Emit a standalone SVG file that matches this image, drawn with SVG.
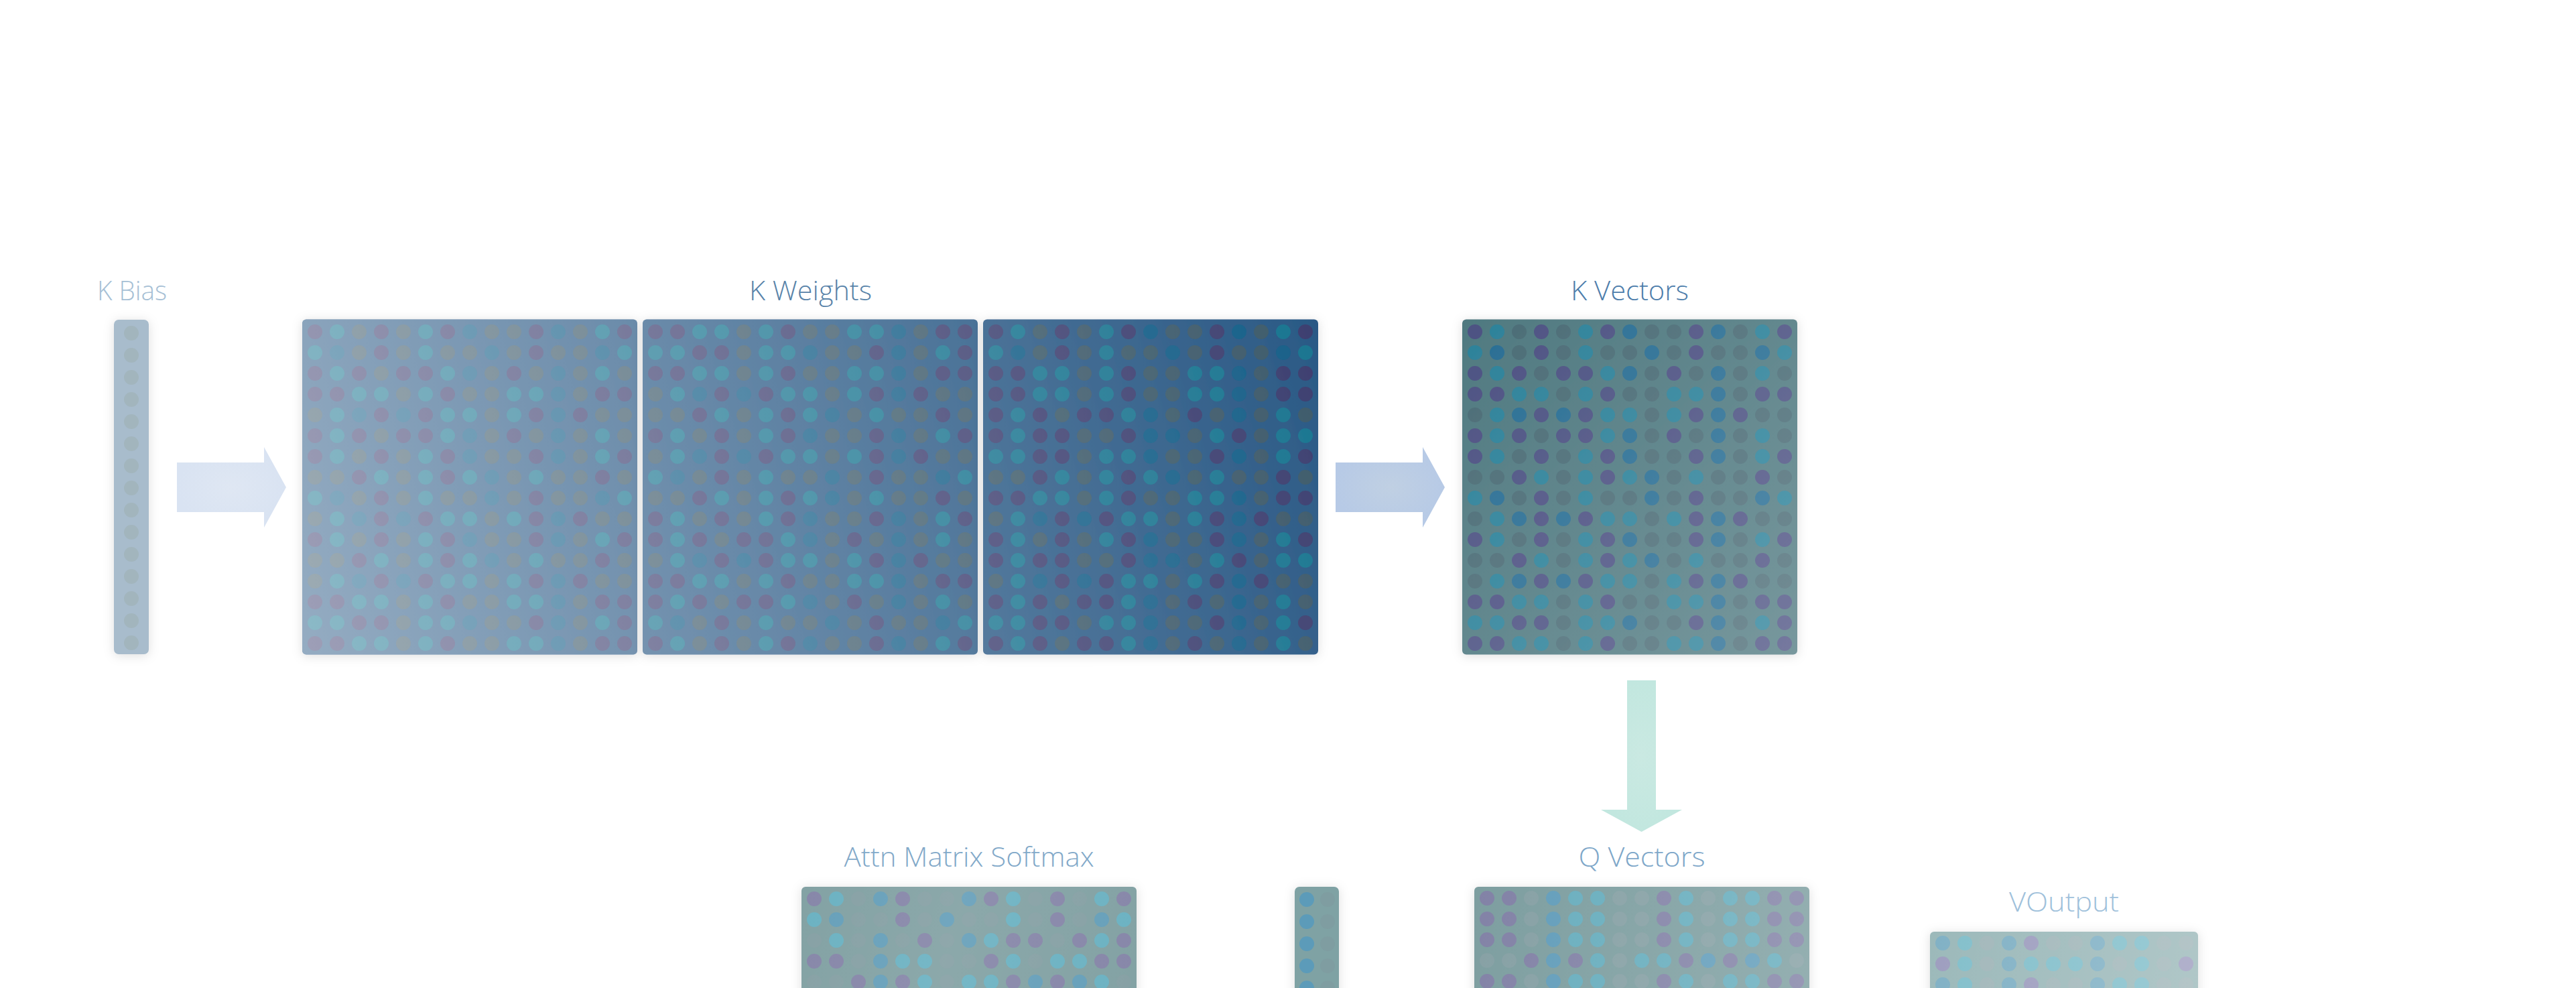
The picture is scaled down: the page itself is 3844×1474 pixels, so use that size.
<svg xmlns="http://www.w3.org/2000/svg" xmlns:xlink="http://www.w3.org/1999/xlink" width="3844" height="1474" viewBox="0 0 3844 1474">
<style>
.p{fill:var(--p)} .t{fill:var(--t)} .b{fill:var(--b)} .g{fill:var(--g)}
.lbl{font-family:"Open Sans","Liberation Sans",sans-serif;font-weight:300;text-anchor:middle}
.top{font-size:41px}
.bot{font-size:40px}
</style>
<defs>
<filter id="sh" x="-10%" y="-10%" width="120%" height="120%">
<feDropShadow dx="0" dy="2" stdDeviation="8" flood-color="#000" flood-opacity="0.13"/>
</filter>
<filter id="shn" x="-60%" y="-10%" width="220%" height="120%">
<feDropShadow dx="0" dy="2" stdDeviation="8" flood-color="#000" flood-opacity="0.13"/>
</filter>
<linearGradient id="kwov" gradientUnits="userSpaceOnUse" x1="451" y1="976" x2="1967" y2="476">
<stop offset="0" stop-color="#fff" stop-opacity="0.5"/><stop offset="1" stop-color="#fff" stop-opacity="0"/>
</linearGradient>
<linearGradient id="kvov" gradientUnits="userSpaceOnUse" x1="2182" y1="476" x2="2682" y2="976">
<stop offset="0" stop-color="#fff" stop-opacity="0"/><stop offset="1" stop-color="#fff" stop-opacity="0.23"/>
</linearGradient>
<linearGradient id="atov" gradientUnits="userSpaceOnUse" x1="1196" y1="1323" x2="1696" y2="1474">
<stop offset="0" stop-color="#fff" stop-opacity="0"/><stop offset="0.45" stop-color="#fff" stop-opacity="0.07"/><stop offset="1" stop-color="#fff" stop-opacity="0"/>
</linearGradient>
<linearGradient id="qov" gradientUnits="userSpaceOnUse" x1="2200" y1="1323" x2="2700" y2="1474">
<stop offset="0" stop-color="#fff" stop-opacity="0"/><stop offset="1" stop-color="#fff" stop-opacity="0.18"/>
</linearGradient>
<linearGradient id="vov" gradientUnits="userSpaceOnUse" x1="2880" y1="1390" x2="3280" y2="1474">
<stop offset="0" stop-color="#fff" stop-opacity="0"/><stop offset="1" stop-color="#fff" stop-opacity="0.2"/>
</linearGradient>
<radialGradient id="ar1"><stop offset="0" stop-color="#dfe7f3"/><stop offset="1" stop-color="#d9e3f2"/></radialGradient>
<radialGradient id="ar2"><stop offset="0" stop-color="#c0d0e3"/><stop offset="1" stop-color="#b7cae6"/></radialGradient>
<radialGradient id="ar3"><stop offset="0" stop-color="#cae9e2"/><stop offset="1" stop-color="#c2e7df"/></radialGradient>
<g id="rA"><circle class="p" cx="0" r="11"/><circle class="t" cx="33" r="11"/><circle class="g" cx="66" r="11"/><circle class="p" cx="99" r="11"/><circle class="g" cx="132" r="11"/><circle class="t" cx="165" r="11"/><circle class="p" cx="198" r="11"/><circle class="b" cx="231" r="11"/><circle class="g" cx="264" r="11"/><circle class="g" cx="297" r="11"/><circle class="p" cx="330" r="11"/><circle class="b" cx="363" r="11"/><circle class="g" cx="396" r="11"/><circle class="t" cx="429" r="11"/><circle class="p" cx="462" r="11"/></g>
<g id="rB"><circle class="t" cx="0" r="11"/><circle class="b" cx="33" r="11"/><circle class="g" cx="66" r="11"/><circle class="p" cx="99" r="11"/><circle class="g" cx="132" r="11"/><circle class="t" cx="165" r="11"/><circle class="g" cx="198" r="11"/><circle class="g" cx="231" r="11"/><circle class="b" cx="264" r="11"/><circle class="g" cx="297" r="11"/><circle class="p" cx="330" r="11"/><circle class="g" cx="363" r="11"/><circle class="g" cx="396" r="11"/><circle class="b" cx="429" r="11"/><circle class="t" cx="462" r="11"/></g>
<g id="rC"><circle class="p" cx="0" r="11"/><circle class="t" cx="33" r="11"/><circle class="p" cx="66" r="11"/><circle class="g" cx="99" r="11"/><circle class="p" cx="132" r="11"/><circle class="p" cx="165" r="11"/><circle class="t" cx="198" r="11"/><circle class="b" cx="231" r="11"/><circle class="g" cx="264" r="11"/><circle class="p" cx="297" r="11"/><circle class="g" cx="330" r="11"/><circle class="b" cx="363" r="11"/><circle class="g" cx="396" r="11"/><circle class="t" cx="429" r="11"/><circle class="g" cx="462" r="11"/></g>
<g id="rD"><circle class="p" cx="0" r="11"/><circle class="p" cx="33" r="11"/><circle class="t" cx="66" r="11"/><circle class="t" cx="99" r="11"/><circle class="g" cx="132" r="11"/><circle class="t" cx="165" r="11"/><circle class="p" cx="198" r="11"/><circle class="g" cx="231" r="11"/><circle class="g" cx="264" r="11"/><circle class="t" cx="297" r="11"/><circle class="t" cx="330" r="11"/><circle class="b" cx="363" r="11"/><circle class="g" cx="396" r="11"/><circle class="p" cx="429" r="11"/><circle class="p" cx="462" r="11"/></g>
<g id="rE"><circle class="g" cx="0" r="11"/><circle class="t" cx="33" r="11"/><circle class="b" cx="66" r="11"/><circle class="p" cx="99" r="11"/><circle class="b" cx="132" r="11"/><circle class="p" cx="165" r="11"/><circle class="t" cx="198" r="11"/><circle class="t" cx="231" r="11"/><circle class="g" cx="264" r="11"/><circle class="t" cx="297" r="11"/><circle class="p" cx="330" r="11"/><circle class="b" cx="363" r="11"/><circle class="p" cx="396" r="11"/><circle class="g" cx="429" r="11"/><circle class="g" cx="462" r="11"/></g>
<g id="rF"><circle class="g" cx="0" r="11"/><circle class="g" cx="33" r="11"/><circle class="p" cx="66" r="11"/><circle class="t" cx="99" r="11"/><circle class="g" cx="132" r="11"/><circle class="t" cx="165" r="11"/><circle class="p" cx="198" r="11"/><circle class="t" cx="231" r="11"/><circle class="b" cx="264" r="11"/><circle class="g" cx="297" r="11"/><circle class="t" cx="330" r="11"/><circle class="g" cx="363" r="11"/><circle class="g" cx="396" r="11"/><circle class="p" cx="429" r="11"/><circle class="g" cx="462" r="11"/></g>
<g id="rH"><circle class="t" cx="0" r="11"/><circle class="t" cx="33" r="11"/><circle class="p" cx="66" r="11"/><circle class="p" cx="99" r="11"/><circle class="g" cx="132" r="11"/><circle class="t" cx="165" r="11"/><circle class="t" cx="198" r="11"/><circle class="b" cx="231" r="11"/><circle class="g" cx="264" r="11"/><circle class="g" cx="297" r="11"/><circle class="p" cx="330" r="11"/><circle class="b" cx="363" r="11"/><circle class="g" cx="396" r="11"/><circle class="t" cx="429" r="11"/><circle class="p" cx="462" r="11"/></g>
<g id="rI"><circle class="p" cx="0" r="11"/><circle class="t" cx="33" r="11"/><circle class="p" cx="66" r="11"/><circle class="p" cx="99" r="11"/><circle class="g" cx="132" r="11"/><circle class="g" cx="165" r="11"/><circle class="p" cx="198" r="11"/><circle class="b" cx="231" r="11"/><circle class="b" cx="264" r="11"/><circle class="g" cx="297" r="11"/><circle class="t" cx="330" r="11"/><circle class="p" cx="363" r="11"/><circle class="g" cx="396" r="11"/><circle class="t" cx="429" r="11"/><circle class="t" cx="462" r="11"/></g>
<g id="rJ"><circle class="g" cx="0" r="11"/><circle class="g" cx="33" r="11"/><circle class="p" cx="66" r="11"/><circle class="b" cx="99" r="11"/><circle class="p" cx="132" r="11"/><circle class="t" cx="165" r="11"/><circle class="g" cx="198" r="11"/><circle class="t" cx="231" r="11"/><circle class="t" cx="264" r="11"/><circle class="p" cx="297" r="11"/><circle class="b" cx="330" r="11"/><circle class="p" cx="363" r="11"/><circle class="b" cx="396" r="11"/><circle class="t" cx="429" r="11"/><circle class="g" cx="462" r="11"/></g>
<g id="rK"><circle class="p" cx="0" r="11"/><circle class="t" cx="33" r="11"/><circle class="g" cx="66" r="11"/><circle class="b" cx="99" r="11"/><circle class="p" cx="132" r="11"/><circle class="g" cx="165" r="11"/><circle class="g" cx="198" r="11"/><circle class="b" cx="231" r="11"/><circle class="p" cx="264" r="11"/><circle class="t" cx="297" r="11"/><circle class="g" cx="330" r="11"/><circle class="p" cx="363" r="11"/><circle class="g" cx="396" r="11"/><circle class="t" cx="429" r="11"/><circle class="p" cx="462" r="11"/></g>
<g id="rL"><circle class="t" cx="0" r="11"/><circle class="b" cx="33" r="11"/><circle class="g" cx="66" r="11"/><circle class="g" cx="99" r="11"/><circle class="p" cx="132" r="11"/><circle class="g" cx="165" r="11"/><circle class="b" cx="198" r="11"/><circle class="g" cx="231" r="11"/><circle class="g" cx="264" r="11"/><circle class="t" cx="297" r="11"/><circle class="g" cx="330" r="11"/><circle class="p" cx="363" r="11"/><circle class="g" cx="396" r="11"/><circle class="b" cx="429" r="11"/><circle class="t" cx="462" r="11"/></g>
<g id="rM"><circle class="g" cx="0" r="11"/><circle class="t" cx="33" r="11"/><circle class="g" cx="66" r="11"/><circle class="b" cx="99" r="11"/><circle class="g" cx="132" r="11"/><circle class="p" cx="165" r="11"/><circle class="g" cx="198" r="11"/><circle class="b" cx="231" r="11"/><circle class="t" cx="264" r="11"/><circle class="p" cx="297" r="11"/><circle class="p" cx="330" r="11"/><circle class="g" cx="363" r="11"/><circle class="p" cx="396" r="11"/><circle class="t" cx="429" r="11"/><circle class="p" cx="462" r="11"/></g>
<g id="rN"><circle class="p" cx="0" r="11"/><circle class="p" cx="33" r="11"/><circle class="g" cx="66" r="11"/><circle class="b" cx="99" r="11"/><circle class="t" cx="132" r="11"/><circle class="t" cx="165" r="11"/><circle class="g" cx="198" r="11"/><circle class="g" cx="231" r="11"/><circle class="p" cx="264" r="11"/><circle class="t" cx="297" r="11"/><circle class="g" cx="330" r="11"/><circle class="t" cx="363" r="11"/><circle class="t" cx="396" r="11"/><circle class="p" cx="429" r="11"/><circle class="p" cx="462" r="11"/></g>
<g id="rV1"><circle class="b" cx="0" r="11"/><circle class="t" cx="33" r="11"/><circle class="g" cx="66" r="11"/><circle class="b" cx="99" r="11"/><circle class="p" cx="132" r="11"/><circle class="g" cx="165" r="11"/><circle class="g" cx="198" r="11"/><circle class="b" cx="231" r="11"/><circle class="t" cx="264" r="11"/><circle class="t" cx="297" r="11"/><circle class="g" cx="330" r="11"/><circle class="g" cx="363" r="11"/></g>
<g id="rV2"><circle class="p" cx="0" r="11"/><circle class="t" cx="33" r="11"/><circle class="g" cx="66" r="11"/><circle class="b" cx="99" r="11"/><circle class="t" cx="132" r="11"/><circle class="t" cx="165" r="11"/><circle class="t" cx="198" r="11"/><circle class="b" cx="231" r="11"/><circle class="g" cx="264" r="11"/><circle class="t" cx="297" r="11"/><circle class="g" cx="330" r="11"/><circle class="p" cx="363" r="11"/></g>
</defs>
<rect width="3844" height="1474" fill="#fff"/>

<g id="k-bias" style="--g:#a2b5bd">
<g filter="url(#shn)">
<rect x="170" y="477" width="52" height="499" rx="7" fill="#a8bccc"/>
<circle class="g" cx="196" cy="497" r="11"/><circle class="g" cx="196" cy="530" r="11"/><circle class="g" cx="196" cy="563" r="11"/><circle class="g" cx="196" cy="596" r="11"/><circle class="g" cx="196" cy="629" r="11"/><circle class="g" cx="196" cy="662" r="11"/><circle class="g" cx="196" cy="695" r="11"/><circle class="g" cx="196" cy="728" r="11"/><circle class="g" cx="196" cy="761" r="11"/><circle class="g" cx="196" cy="794" r="11"/><circle class="g" cx="196" cy="827" r="11"/><circle class="g" cx="196" cy="860" r="11"/><circle class="g" cx="196" cy="893" r="11"/><circle class="g" cx="196" cy="926" r="11"/><circle class="g" cx="196" cy="959" r="11"/>
</g>
<text class="lbl top" x="197" y="448" fill="#a6bfd5" textLength="104" lengthAdjust="spacingAndGlyphs">K Bias</text>
</g>

<g id="k-weights" style="--p:#3d3f70;--t:#1a7590;--b:#165f88;--g:#3d5a6a">
<g id="k-weights-1" filter="url(#sh)">
<rect x="451" y="476.5" width="500" height="500" rx="6" fill="#2a5985"/>
<use href="#rA" x="470" y="495"/><use href="#rB" x="470" y="526"/><use href="#rC" x="470" y="557"/><use href="#rD" x="470" y="588"/><use href="#rE" x="470" y="619"/><use href="#rC" x="470" y="650"/><use href="#rA" x="470" y="681"/><use href="#rF" x="470" y="712"/><use href="#rB" x="470" y="743"/><use href="#rE" x="470" y="774"/><use href="#rA" x="470" y="805"/><use href="#rF" x="470" y="836"/><use href="#rE" x="470" y="867"/><use href="#rD" x="470" y="898"/><use href="#rH" x="470" y="929"/><use href="#rD" x="470" y="960"/>
<rect x="451" y="476.5" width="500" height="500" rx="6" fill="url(#kwov)"/>
</g>
<g id="k-weights-2" filter="url(#sh)">
<rect x="959" y="476.5" width="500" height="500" rx="6" fill="#2a5985"/>
<use href="#rD" x="978" y="495"/><use href="#rH" x="978" y="526"/><use href="#rD" x="978" y="557"/><use href="#rE" x="978" y="588"/><use href="#rF" x="978" y="619"/><use href="#rA" x="978" y="650"/><use href="#rE" x="978" y="681"/><use href="#rB" x="978" y="712"/><use href="#rF" x="978" y="743"/><use href="#rA" x="978" y="774"/><use href="#rC" x="978" y="805"/><use href="#rE" x="978" y="836"/><use href="#rD" x="978" y="867"/><use href="#rC" x="978" y="898"/><use href="#rB" x="978" y="929"/><use href="#rA" x="978" y="960"/>
<rect x="959" y="476.5" width="500" height="500" rx="6" fill="url(#kwov)"/>
</g>
<g id="k-weights-3" filter="url(#sh)">
<rect x="1467" y="476.5" width="500" height="500" rx="6" fill="#2a5985"/>
<use href="#rA" x="1486" y="495"/><use href="#rB" x="1486" y="526"/><use href="#rD" x="1486" y="557"/><use href="#rD" x="1486" y="588"/><use href="#rC" x="1486" y="619"/><use href="#rI" x="1486" y="650"/><use href="#rH" x="1486" y="681"/><use href="#rF" x="1486" y="712"/><use href="#rD" x="1486" y="743"/><use href="#rE" x="1486" y="774"/><use href="#rA" x="1486" y="805"/><use href="#rI" x="1486" y="836"/><use href="#rE" x="1486" y="867"/><use href="#rC" x="1486" y="898"/><use href="#rH" x="1486" y="929"/><use href="#rC" x="1486" y="960"/>
<rect x="1467" y="476.5" width="500" height="500" rx="6" fill="url(#kwov)"/>
</g>
<text class="lbl top" x="1209.5" y="448" fill="#5883a9" textLength="183" lengthAdjust="spacingAndGlyphs">K Weights</text>
</g>

<g id="k-vectors" style="--p:#4c5182;--t:#2c8199;--b:#286d93;--g:#4a6b75">
<g filter="url(#sh)">
<rect x="2182" y="476.5" width="500" height="500" rx="6" fill="#4f7980"/>
<use href="#rA" x="2201" y="495"/><use href="#rB" x="2201" y="526"/><use href="#rC" x="2201" y="557"/><use href="#rD" x="2201" y="588"/><use href="#rE" x="2201" y="619"/><use href="#rC" x="2201" y="650"/><use href="#rA" x="2201" y="681"/><use href="#rF" x="2201" y="712"/><use href="#rB" x="2201" y="743"/><use href="#rE" x="2201" y="774"/><use href="#rA" x="2201" y="805"/><use href="#rF" x="2201" y="836"/><use href="#rE" x="2201" y="867"/><use href="#rD" x="2201" y="898"/><use href="#rH" x="2201" y="929"/><use href="#rD" x="2201" y="960"/>
<rect x="2182" y="476.5" width="500" height="500" rx="6" fill="url(#kvov)"/>
</g>
<text class="lbl top" x="2432" y="448" fill="#4d7dab" textLength="176" lengthAdjust="spacingAndGlyphs">K Vectors</text>
</g>

<g id="attn-matrix-softmax" style="--p:#8787a9;--t:#6cb2c2;--b:#67a0ba;--g:#87a1a5">
<g filter="url(#sh)">
<rect x="1196" y="1323" width="500" height="300" rx="6" fill="#83a2a4"/>
<use href="#rK" x="1215" y="1341"/><use href="#rL" x="1215" y="1372"/><use href="#rM" x="1215" y="1403"/><use href="#rN" x="1215" y="1434"/><use href="#rJ" x="1215" y="1465"/>
<rect x="1196" y="1323" width="500" height="300" rx="6" fill="url(#atov)"/>
</g>
<text class="lbl bot" x="1446" y="1293" fill="#82a9c9" textLength="373" lengthAdjust="spacingAndGlyphs">Attn Matrix Softmax</text>
</g>

<g id="attn-column" style="--b:#5c9bb9;--g:#7f9da1">
<g filter="url(#shn)">
<rect x="1932" y="1323" width="66" height="300" rx="7" fill="#7fa2a4"/>
<circle class="b" cx="1950" cy="1342" r="11"/><circle class="g" cx="1981" cy="1342" r="11"/>
<circle class="b" cx="1950" cy="1375" r="11"/><circle class="g" cx="1981" cy="1375" r="11"/>
<circle class="b" cx="1950" cy="1408" r="11"/><circle class="g" cx="1981" cy="1408" r="11"/>
<circle class="b" cx="1950" cy="1441" r="11"/><circle class="g" cx="1981" cy="1441" r="11"/>
<circle class="b" cx="1950" cy="1474" r="11"/><circle class="g" cx="1981" cy="1474" r="11"/>
</g>
</g>

<g id="q-vectors" style="--p:#8282a6;--t:#67adbd;--b:#629dba;--g:#86a0a4">
<g filter="url(#sh)">
<rect x="2200" y="1323" width="500" height="300" rx="6" fill="#7d9ea0"/>
<use href="#rN" x="2219" y="1340"/><use href="#rN" x="2219" y="1371"/><use href="#rN" x="2219" y="1402"/><use href="#rJ" x="2219" y="1433"/><use href="#rN" x="2219" y="1464"/>
<rect x="2200" y="1323" width="500" height="300" rx="6" fill="url(#qov)"/>
</g>
<text class="lbl bot" x="2450" y="1293" fill="#7ea7c9" textLength="189" lengthAdjust="spacingAndGlyphs">Q Vectors</text>
</g>

<g id="v-output" style="--p:#9e9ebf;--t:#83bfcb;--b:#81b1c5;--g:#a2b7ba">
<g filter="url(#sh)">
<rect x="2880" y="1390" width="400" height="200" rx="6" fill="#9cb9ba"/>
<use href="#rV1" x="2899" y="1407"/><use href="#rV2" x="2899" y="1438"/><use href="#rV1" x="2899" y="1469"/>
<rect x="2880" y="1390" width="400" height="200" rx="6" fill="url(#vov)"/>
</g>
<text class="lbl bot" x="3080" y="1360" fill="#9fc1db" textLength="164" lengthAdjust="spacingAndGlyphs">VOutput</text>
</g>

<g id="connectors">
<polygon points="264,690 394,690 394,667 427,727 394,787 394,764 264,764" fill="url(#ar1)"/>
<polygon points="1993,690 2123,690 2123,667 2156,727 2123,787 2123,764 1993,764" fill="url(#ar2)"/>
<polygon points="2428,1015 2471,1015 2471,1208 2510,1208 2449.5,1241 2389,1208 2428,1208" fill="url(#ar3)"/>
</g>
</svg>
